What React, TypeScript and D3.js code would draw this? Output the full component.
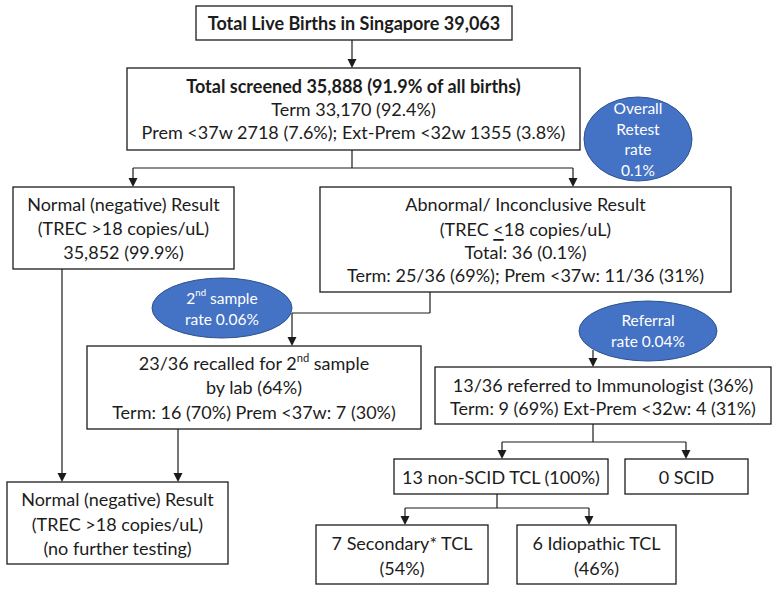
import React from "react";
import * as d3 from "d3";

// ---- text content ----
const birthsLines = ["**Total Live Births in Singapore 39,063**"];
const screenedLines = [
  "**Total screened 35,888 (91.9% of all births)**",
  "Term 33,170 (92.4%)",
  "Prem <37w 2718 (7.6%); Ext-Prem <32w 1355 (3.8%)",
];
const normalLines = ["Normal (negative) Result", "(TREC >18 copies/uL)", "35,852 (99.9%)"];
const abnormalLines = [
  "Abnormal/ Inconclusive Result",
  "(TREC _<_18 copies/uL)",
  "Total: 36 (0.1%)",
  "Term: 25/36 (69%); Prem <37w: 11/36 (31%)",
];
const recallLines = ["23/36 recalled for 2^nd^ sample", "by lab (64%)", "Term: 16 (70%) Prem <37w: 7 (30%)"];
const referredLines = ["13/36 referred to Immunologist (36%)", "Term: 9 (69%) Ext-Prem <32w: 4 (31%)"];
const finalNormalLines = ["Normal (negative) Result", "(TREC >18 copies/uL)", "(no further testing)"];
const nonScidLines = ["13 non-SCID TCL (100%)"];
const scidLines = ["0 SCID"];
const secondaryLines = ["7 Secondary* TCL", "(54%)"];
const idiopathicLines = ["6 Idiopathic TCL", "(46%)"];
const retestLines = ["Overall", "Retest", "rate", "0.1%"];
const secondSampleLines = ["2^nd^ sample", "rate 0.06%"];
const referralLines = ["Referral", "rate 0.04%"];

// ---- layout (positions kept separate from content) ----
type Box = { lines: string[]; x: number; y: number; w: number; h: number; ly: number[] };
const boxes: Box[] = [
  { lines: birthsLines, x: 196, y: 6, w: 316, h: 34, ly: [23] },
  { lines: screenedLines, x: 127, y: 68, w: 453, h: 82, ly: [86, 109, 132] },
  { lines: normalLines, x: 13, y: 187, w: 221, h: 82, ly: [204, 228, 252] },
  { lines: abnormalLines, x: 320, y: 187, w: 411, h: 105, ly: [204, 229, 252, 275] },
  { lines: recallLines, x: 87, y: 346, w: 334, h: 83, ly: [363, 387, 412] },
  { lines: referredLines, x: 435, y: 367, w: 336, h: 57, ly: [385, 408] },
  { lines: finalNormalLines, x: 7, y: 482, w: 221, h: 82, ly: [499, 524, 548] },
  { lines: nonScidLines, x: 394, y: 459, w: 214, h: 35, ly: [477] },
  { lines: scidLines, x: 625, y: 459, w: 123, h: 35, ly: [477] },
  { lines: secondaryLines, x: 316, y: 525, w: 172, h: 59, ly: [543, 568] },
  { lines: idiopathicLines, x: 517, y: 525, w: 159, h: 59, ly: [543, 568] },
];

type Oval = { lines: string[]; cx: number; cy: number; rx: number; ry: number; ly: number[] };
const ovals: Oval[] = [
  { lines: retestLines, cx: 638, cy: 139, rx: 54, ry: 42, ly: [108, 129, 149, 170] },
  { lines: secondSampleLines, cx: 222, cy: 308, rx: 70, ry: 30, ly: [298, 319] },
  { lines: referralLines, cx: 648, cy: 331, rx: 69, ry: 30, ly: [320, 341] },
];

type Seg = { pts: [number, number][]; arrow?: boolean };
const connectors: Seg[] = [
  { pts: [[352, 40], [352, 68]], arrow: true },
  { pts: [[352, 150], [352, 168]] },
  { pts: [[133, 168], [573, 168]] },
  { pts: [[133, 168], [133, 187]], arrow: true },
  { pts: [[573, 168], [573, 187]], arrow: true },
  { pts: [[62, 269], [62, 482]], arrow: true },
  { pts: [[430, 292], [430, 313]] },
  { pts: [[292, 313], [430, 313]] },
  { pts: [[292, 313], [292, 346]], arrow: true },
  { pts: [[593, 350], [593, 367]], arrow: true },
  { pts: [[178, 429], [178, 482]], arrow: true },
  { pts: [[593, 424], [593, 442]] },
  { pts: [[502, 442], [686, 442]] },
  { pts: [[502, 442], [502, 459]], arrow: true },
  { pts: [[686, 442], [686, 459]], arrow: true },
  { pts: [[497, 494], [497, 508]] },
  { pts: [[405, 508], [589, 508]] },
  { pts: [[405, 508], [405, 525]], arrow: true },
  { pts: [[589, 508], [589, 525]], arrow: true },
];

const FONT = "Lato, 'Open Sans', sans-serif";
const INK = "#1c1c1c";

// parse simple markup: **bold**, ^sup^, _underline_
function renderLine(s: string, fs: number) {
  let bold = false;
  if (s.startsWith("**") && s.endsWith("**")) {
    bold = true;
    s = s.slice(2, -2);
  }
  const parts: React.ReactNode[] = [];
  const re = /(\^[^^]+\^|_[^_]+_)/g;
  let last = 0;
  let m: RegExpExecArray | null;
  let k = 0;
  let pendingDy = 0;
  const push = (txt: string, extra: any = {}) => {
    const props: any = { ...extra };
    if (pendingDy && props.dy === undefined) {
      props.dy = pendingDy;
      pendingDy = 0;
    }
    parts.push(
      <tspan key={k++} {...props}>
        {txt}
      </tspan>
    );
  };
  while ((m = re.exec(s))) {
    if (m.index > last) push(s.slice(last, m.index));
    const tok = m[0];
    if (tok[0] === "^") {
      push(tok.slice(1, -1), { fontSize: fs * 0.62, dy: -fs * 0.36 });
      pendingDy = fs * 0.36;
    } else {
      push(tok.slice(1, -1), { style: { textDecoration: "underline" } });
    }
    last = m.index + tok.length;
  }
  if (last < s.length) push(s.slice(last));
  return { parts, bold };
}

export default function App() {
  const W = 778;
  const H = 593;
  const line = d3.line<[number, number]>();
  const fs = 18;
  const ofs = 15.5;
  return (
    <svg
      width={W}
      height={H}
      style={{ position: "absolute", left: 0, top: 0, background: "#fff" }}
      fontFamily={FONT}
    >
      <rect width={W} height={H} fill="#fff" />
      {connectors.map((c, i) => {
        const end = c.pts[c.pts.length - 1];
        const shaft = c.arrow ? c.pts.map((p, j) => (j === c.pts.length - 1 ? [p[0], p[1] - 6] : p)) : c.pts;
        return (
          <g key={i}>
            <path d={line(shaft as [number, number][]) || ""} stroke={INK} strokeWidth={1.2} fill="none" />
            {c.arrow && (
              <path
                d={`M${end[0]},${end[1]} L${end[0] - 4.5},${end[1] - 9} L${end[0] + 4.5},${end[1] - 9} Z`}
                fill={INK}
              />
            )}
          </g>
        );
      })}
      {boxes.map((b, i) => (
        <g key={i}>
          <rect x={b.x} y={b.y} width={b.w} height={b.h} fill="#fff" stroke={INK} strokeWidth={1.3} />
          {b.lines.map((l, j) => {
            const r = renderLine(l, fs);
            return (
              <text
                key={j}
                x={b.x + b.w / 2}
                y={b.ly[j]}
                textAnchor="middle"
                dominantBaseline="central"
                fontSize={fs}
                fontWeight={r.bold ? 700 : 400}
                fill={INK}
              >
                {r.parts}
              </text>
            );
          })}
        </g>
      ))}
      {ovals.map((o, i) => (
        <g key={i}>
          <ellipse cx={o.cx} cy={o.cy} rx={o.rx} ry={o.ry} fill="#4472C4" stroke="#2F528F" strokeWidth={1} />
          {o.lines.map((l, j) => {
            const r = renderLine(l, ofs);
            return (
              <text
                key={j}
                x={o.cx}
                y={o.ly[j]}
                textAnchor="middle"
                dominantBaseline="central"
                fontSize={ofs}
                fill="#fff"
              >
                {r.parts}
              </text>
            );
          })}
        </g>
      ))}
    </svg>
  );
}
